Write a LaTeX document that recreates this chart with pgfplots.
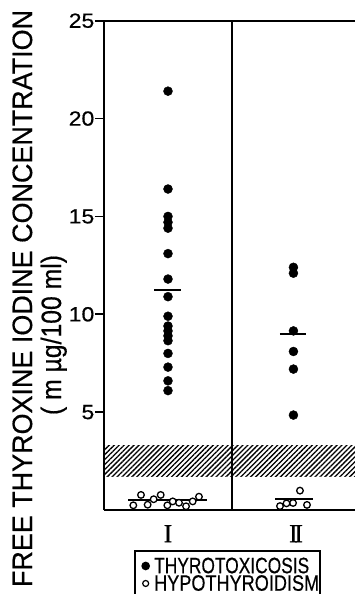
\documentclass[border=0pt]{standalone}
\usepackage{fontspec}
\setmainfont{Liberation Sans}[FakeBold=0.5]
\newfontfamily\romanfont{Liberation Serif}[FakeBold=0.5]
\usepackage{graphicx}
\usepackage{pgfplots}
\pgfplotsset{compat=1.18}
\usetikzlibrary{patterns.meta}

\pgfplotstableread{
x y
1.0 21.4
1.0 16.4
1.0 15.0
1.0 14.7
1.0 14.4
1.0 13.1
1.0 11.8
1.0 10.9
1.0 9.9
1.0 9.4
1.0 9.15
1.0 8.9
1.0 8.65
1.0 8.0
1.0 7.3
1.0 6.6
1.0 6.1
}\thyroI
\pgfplotstableread{
x y
1.98 12.4
1.98 12.1
1.98 9.15
1.98 8.1
1.98 7.2
1.98 4.85
}\thyroII
\pgfplotstableread{
x y
0.729 0.24
0.789 0.77
0.841 0.27
0.888 0.55
0.943 0.77
0.995 0.24
1.037 0.44
1.086 0.37
1.141 0.19
1.193 0.44
1.242 0.68
}\hypoI
\pgfplotstableread{
x y
1.875 0.20
1.926 0.34
1.977 0.36
2.031 0.99
2.086 0.26
}\hypoII

\newcommand{\legfont}{\fontsize{22.3bp}{23bp}\selectfont}

\begin{document}
\begin{tikzpicture}
\begin{axis}[
  at={(104bp,84bp)}, anchor=south west,
  scale only axis, width=251bp, height=489.3bp,
  xmin=0.5, xmax=2.461, ymin=0, ymax=25,
  axis x line=box, axis y line=left,
  axis line style={line width=2.3bp, -},
  ytick={5,10,15,20,25},
  xtick={1,2}, xticklabels={I,{I\kern-3.5bp I}},
  major tick length=9bp, tick align=outside,
  tick style={line width=1.8bp, black},
  xtick style={draw=none},
  /pgf/number format/assume math mode=true,
  yticklabel={\scalebox{1.12}[1]{\pgfmathprintnumber{\tick}}},
  yticklabel style={font=\fontsize{20.5bp}{21bp}\selectfont, inner sep=0pt, xshift=-0.5bp},
  xticklabel style={font=\romanfont\fontsize{26bp}{26bp}\selectfont, anchor=north, inner sep=0pt, yshift=-6bp},
  legend style={at={(axis cs:0.735,-2.04)}, anchor=north west, draw=black, line width=1.6bp,
    inner xsep=1bp, inner ysep=6.5bp, row sep=0pt, column sep=5bp,
    font=\legfont,
    nodes={inner sep=0pt}},
  legend cell align=left,
  legend image code/.code={\path (-9bp,0bp) (0bp,0bp); \draw[#1] plot coordinates {(0bp,0bp)};},
]
\addplot[draw=none, pattern={Lines[angle=45,distance=3.5bp,line width=1.3bp]}, forget plot]
  coordinates {(0.5,1.7) (2.461,1.7) (2.461,3.3) (0.5,3.3) (0.5,1.7)};
\addplot[black, line width=2.3bp, forget plot] coordinates {(1.5,0) (1.5,25)};
% mean lines
\addplot[black, line width=1.8bp, forget plot] coordinates {(0.891,11.26) (1.102,11.26)};
\addplot[black, line width=1.8bp, forget plot] coordinates {(1.875,8.98) (2.08,8.98)};
\addplot[black, line width=1.5bp, forget plot] coordinates {(0.6875,0.51) (1.305,0.51)};
\addplot[black, line width=1.5bp, forget plot] coordinates {(1.836,0.55) (2.133,0.55)};
% points
\addplot[only marks, mark=*, mark size=4.5bp, black, forget plot] table[x=x,y=y] {\thyroI};
\addplot[only marks, mark=*, mark size=4.5bp, black, forget plot] table[x=x,y=y] {\thyroII};
\addplot[only marks, mark=*, mark size=3.3bp, mark options={fill=white, draw=black, line width=1.3bp}, forget plot] table[x=x,y=y] {\hypoI};
\addplot[only marks, mark=*, mark size=3.3bp, mark options={fill=white, draw=black, line width=1.3bp}, forget plot] table[x=x,y=y] {\hypoII};
\addlegendimage{only marks, mark=*, mark size=3.5bp, black}
\addlegendentry{\legfont\rule[-3.5bp]{0pt}{19.5bp}\resizebox{155bp}{\height}{THYROTOXICOSIS}}
\addlegendimage{only marks, mark=*, mark size=3bp, mark options={fill=white, draw=black, line width=1.2bp}}
\addlegendentry{\legfont\rule[-3.5bp]{0pt}{19.5bp}\resizebox{165bp}{\height}{HYPOTHYROIDISM}}
\end{axis}
\node[rotate=90, anchor=base, inner sep=0pt] at (32bp,295.5bp)
  {\fontsize{28bp}{30bp}\selectfont\resizebox{577bp}{\height}{FREE THYROXINE IODINE CONCENTRATION}};
\node[rotate=90, anchor=base, inner sep=0pt] at (61bp,259bp)
  {\fontsize{28bp}{30bp}\selectfont\resizebox{160bp}{\height}{( m µg/100 ml)}};
\pgfresetboundingbox
\useasboundingbox (0,0) rectangle (355bp,594bp);
\end{tikzpicture}
\end{document}
